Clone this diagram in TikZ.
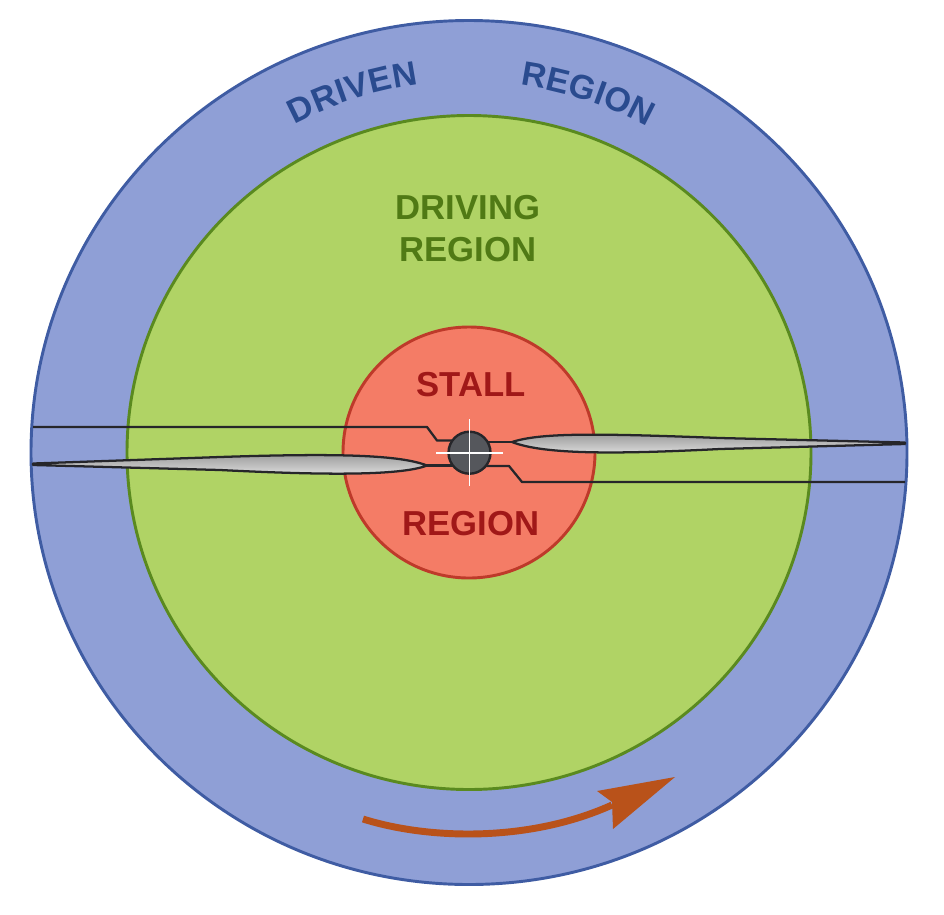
\documentclass[tikz,border=0pt]{standalone}
\usepackage{fontspec}
\setmainfont{Liberation Sans}
\usetikzlibrary{decorations.text}

\definecolor{drivenfill}{HTML}{8F9FD6}
\definecolor{drivenline}{HTML}{3F5CA3}
\definecolor{driventext}{HTML}{2A4B8F}
\definecolor{drivingfill}{HTML}{B0D365}
\definecolor{drivingline}{HTML}{5A8A1F}
\definecolor{drivingtext}{HTML}{507A15}
\definecolor{stallfill}{HTML}{F47C66}
\definecolor{stallline}{HTML}{BE3A2A}
\definecolor{stalltext}{HTML}{A01818}
\definecolor{bladeline}{HTML}{26262A}
\definecolor{hubfill}{HTML}{55575C}
\definecolor{arrowfill}{HTML}{B9521A}

\newcommand{\regionfont}{\fontsize{25.5}{30}\selectfont\bfseries\color{driventext}}

\begin{document}
\begin{tikzpicture}[x=0.75pt, y=-0.75pt,
    ring/.style={line width=2.2pt},
    label/.style={font=\fontsize{26}{30}\selectfont\bfseries, inner sep=0pt},
    bladeedge/.style={line width=1.7pt, color=bladeline, line join=round},
    blade/.style={bladeedge, top color=black!40, bottom color=black!12}]

    \useasboundingbox (0, 0) rectangle (944, 914);

    % the three regions
    \foreach \rx/\ry/\regfill/\regline in {438/432/drivenfill/drivenline, 342/337/drivingfill/drivingline, 126/125.5/stallfill/stallline} {
        \filldraw[ring, fill=\regfill, draw=\regline] (469, 452.5) ellipse ({\rx} and {\ry});
    }

    % curved labels in the outer ring
    \path[decorate, decoration={text along path, text align={fit to path}, text={|\regionfont|DRIVEN}}]
        (294.8, 124.4) arc (-118:-97.8:371);
    \path[decorate, decoration={text along path, text align={fit to path}, text={|\regionfont|REGION}}]
        (520.6, 85.1) arc (-82:-62:371);

    \node[label, text=drivingtext] (driving) at (468, 208) {DRIVING};
    \node[label, text=drivingtext] (drivingregion) at (468, 250) {REGION};
    \node[label, text=stalltext] (stall) at (471, 385) {STALL};
    \node[label, text=stalltext] (stallregion) at (471, 524) {REGION};

    % blades
    \draw[blade] (512, 442) .. controls (540, 433) and (590, 433) .. (720, 438)
        -- (905, 442.5) -- (905, 444) -- (720, 449)
        .. controls (620, 454) and (545, 455) .. (512, 442) -- cycle;
    \draw[blade] (427, 465.5) .. controls (400, 455) and (340, 453) .. (220, 457)
        -- (33, 463.5) -- (33, 465) -- (220, 470)
        .. controls (320, 475) and (400, 476) .. (427, 465.5) -- cycle;

    % pitch lines and hub
    \draw[bladeedge] (33, 427) -- (427, 427) -- (437, 440.5) -- (469, 440.5);
    \draw[bladeedge] (427, 465.5) -- (469, 465.5);
    \draw[bladeedge] (512, 442) -- (469, 442);
    \draw[bladeedge] (905, 482) -- (522, 482) -- (509, 466) -- (469, 466);

    \filldraw[line width=1.8pt, fill=hubfill, draw=bladeline] (469.5, 452.7) circle (21);
    \draw[line width=1.4pt, white] (436, 452.7) -- (503, 452.7);
    \draw[line width=1.4pt, white] (469.5, 419) -- (469.5, 486);

    % rotation arrow
    \draw[line width=5.2pt, arrowfill] (363, 819) .. controls (430, 840) and (530, 842) .. (612, 805);
    \fill[arrowfill] (675, 777) -- (597, 791) -- (612, 802) -- (613, 829) -- cycle;
\end{tikzpicture}
\end{document}
